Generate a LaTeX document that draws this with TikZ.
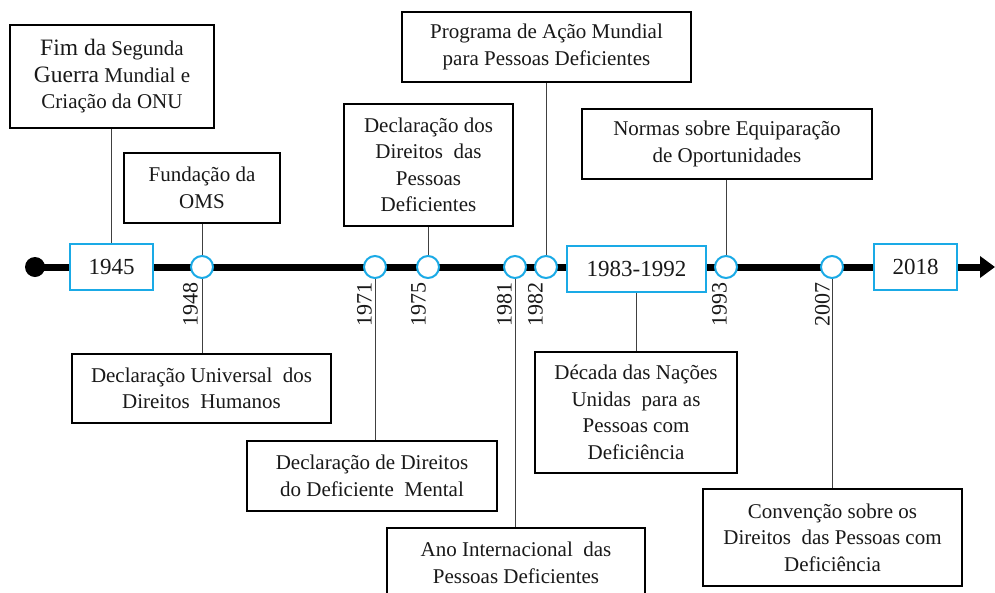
\documentclass[tikz,border=0pt]{standalone}
\usepackage{fontspec}
\setmainfont{Liberation Serif}
\usetikzlibrary{arrows.meta}
\definecolor{tlblue}{HTML}{1AAAE6}
\begin{document}
\begin{tikzpicture}[x=1pt,y=-1pt,
  evbox/.style={draw=black, line width=1.6pt, fill=white, align=center, inner sep=0pt, text=black!90, font=\fontsize{21}{26.5}\selectfont},
  yrbox/.style={draw=tlblue, line width=2.2pt, fill=white, inner sep=0pt, text=black!90, font=\fontsize{23}{27}\selectfont},
  ydot/.style={circle, draw=tlblue, line width=2pt, fill=white, minimum size=22pt, inner sep=0pt},
  yrlab/.style={rotate=90, anchor=south east, inner sep=0pt, text=black!90, font=\fontsize{22}{22}\selectfont},
  conn/.style={draw=black!75, line width=0.9pt}]
\useasboundingbox (0,0) rectangle (995,592);
\clip (0,0) rectangle (995,592);
\fill[white] (0,0) rectangle (995,592);
% timeline
\coordinate (tlend) at (995,267);
\node[circle, fill=black, minimum size=20pt, inner sep=0pt] (tlstart) at (35,267) {};
\draw[line width=7pt, -{Triangle[length=15pt,width=21pt]}] (tlstart.center) -- (tlend);
% year boxes
\node[yrbox, minimum width=83pt, minimum height=46pt] (y1945) at (111.5,267) {1945};
\node[yrbox, minimum width=139pt, minimum height=46pt] (y1983) at (636.5,269) {1983-1992};
\node[yrbox, minimum width=83pt, minimum height=46pt] (y2018) at (915.5,267) {2018};
% circles
\node[ydot] (c1948) at (202,267) {};
\node[ydot] (c1971) at (375,267) {};
\node[ydot] (c1975) at (428,267) {};
\node[ydot] (c1981) at (515,267) {};
\node[ydot] (c1982) at (546,267) {};
\node[ydot] (c1993) at (726,267) {};
\node[ydot] (c2007) at (832,267) {};
% year labels
\node[yrlab] (l1948) at (198,282) {1948};
\node[yrlab] (l1971) at (372,282) {1971};
\node[yrlab] (l1975) at (426,282) {1975};
\node[yrlab] (l1981) at (512,282) {1981};
\node[yrlab] (l1982) at (543,282) {1982};
\node[yrlab] (l1993) at (727,282) {1993};
\node[yrlab] (l2007) at (830,282) {2007};
% event boxes
\node[evbox, minimum width=204pt, minimum height=103pt] (fim) at (112,76.5)
  {{\fontsize{23.5}{27}\selectfont Fim da} Segunda\\{\fontsize{23.5}{27}\selectfont Guerra} Mundial e\\Criação da ONU};
\node[evbox, minimum width=156pt, minimum height=70pt] (oms) at (202,188) {Fundação da\\OMS};
\node[evbox, minimum width=169pt, minimum height=122pt] (ddpd) at (428.5,165) {Declaração dos\\Direitos~ das\\Pessoas\\Deficientes};
\node[evbox, minimum width=289pt, minimum height=70pt] (prog) at (546.5,47) {Programa de Ação Mundial\\para Pessoas Deficientes};
\node[evbox, minimum width=290pt, minimum height=70pt] (normas) at (727,144) {Normas sobre Equiparação\\de Oportunidades};
\node[evbox, minimum width=259pt, minimum height=69pt] (dudh) at (201.5,388.5) {Declaração Universal~ dos\\Direitos~ Humanos};
\node[evbox, minimum width=250pt, minimum height=70pt] (ddm) at (372,476) {Declaração de Direitos\\do Deficiente~ Mental};
\node[evbox, minimum width=258pt, minimum height=70pt] (ano) at (516,563) {Ano Internacional~ das\\Pessoas Deficientes};
\node[evbox, minimum width=202pt, minimum height=121pt] (decada) at (636,412.5) {Década das Nações\\Unidas~ para as\\Pessoas com\\Deficiência};
\node[evbox, minimum width=259pt, minimum height=97pt] (conv) at (832.5,537.5) {Convenção sobre os\\Direitos~ das Pessoas com\\Deficiência};
% connectors
\draw[conn] (y1945.north) -- (y1945.north |- fim.south);
\draw[conn] (c1948.north) -- (c1948.north |- oms.south);
\draw[conn] (c1948.south) -- (c1948.south |- dudh.north);
\draw[conn] (c1971.south) -- (c1971.south |- ddm.north);
\draw[conn] (c1975.north) -- (c1975.north |- ddpd.south);
\draw[conn] (c1981.south) -- (c1981.south |- ano.north);
\draw[conn] (c1982.north) -- (c1982.north |- prog.south);
\draw[conn] (y1983.south) -- (y1983.south |- decada.north);
\draw[conn] (c1993.north) -- (c1993.north |- normas.south);
\draw[conn] (c2007.south) -- (c2007.south |- conv.north);
\end{tikzpicture}
\end{document}
